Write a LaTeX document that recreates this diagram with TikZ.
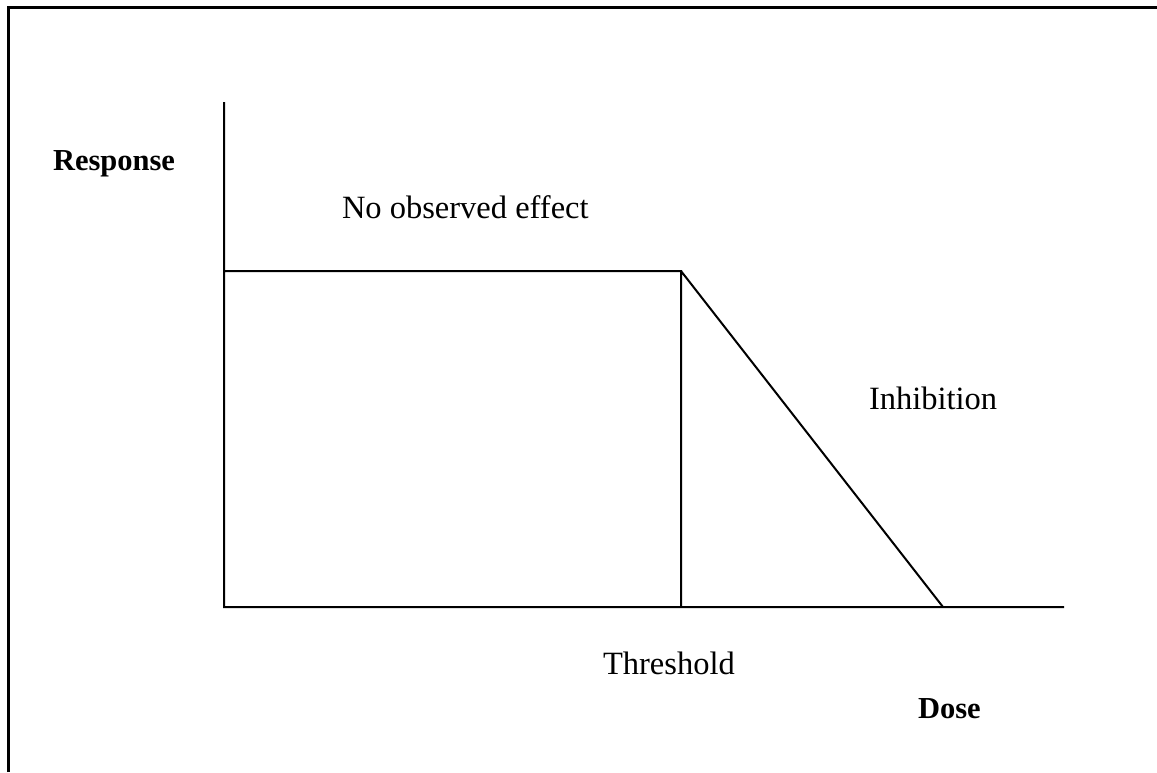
\documentclass[tikz,border=0pt]{standalone}
\usepackage{fontspec}
\setmainfont{Liberation Serif}
\usetikzlibrary{positioning}

\begin{document}
\begin{tikzpicture}[x=1pt,y=-1pt,line width=2pt,
    label text/.style={anchor=base west,inner sep=0pt,font=\fontsize{32.5}{38}\selectfont},
    axis label/.style={label text,font=\fontsize{30.5}{36}\selectfont\bfseries}]
  \useasboundingbox (0,0) rectangle (1157,772);

  % frame
  \draw[line width=3pt] (8,772) -- (8,7) -- (1157,7);

  \coordinate (top) at (224,102);
  \coordinate (origin) at (224,607);
  \coordinate (end) at (1064,607);
  \coordinate (plateau) at (224,271);
  \coordinate (thr) at (681,271);
  \coordinate (thrfoot) at (681,607);
  \coordinate (zero) at (943,607);

  \path[draw]
        (top) -- (origin) -- (end)
        (plateau) -- (thr) -- (thrfoot)
        (thr) -- (zero);

  \node[axis label] (response) at (52,170) {Response};
  \node[axis label] (dose) at (917,718) {Dose};
  \node[label text] (noeffect) at (341,218) {No observed effect};
  \node[label text] (inhib) at (868,409) {Inhibition};
  \node[label text] (threshold) at (602,674) {Threshold};
\end{tikzpicture}
\end{document}
